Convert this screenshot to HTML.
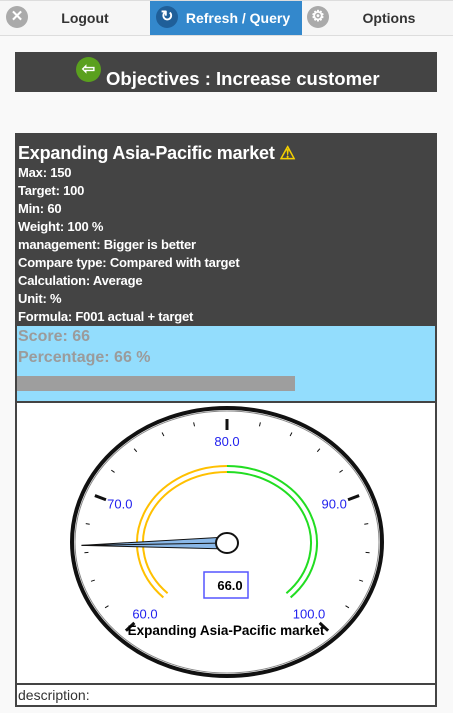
<!DOCTYPE html>
<html><head><meta charset="utf-8"><style>
body{margin:0;width:453px;height:713px;background:#f9f9f9;font-family:"Liberation Sans",Arial,sans-serif;position:relative;overflow:hidden}
.abs{position:absolute}
.nav{left:0;top:0;width:453px;height:34px;background:#f6f6f6;border-top:1px solid #ddd;border-bottom:1px solid #ddd}
.tab{top:1px;height:34px;line-height:34px;font-size:14px;font-weight:bold;color:#333;text-align:center}
.icon{width:22px;height:22px;border-radius:50%;background:#aaa;top:6px;color:#fff;text-align:center;line-height:22px;font-size:15px;font-weight:bold}
.info{left:15px;top:133px;width:418px;border:2px solid #444;background:#444}
.info div{color:#fff;font-weight:bold;font-size:13px;line-height:18px;padding-left:1px;letter-spacing:-0.2px}
</style></head><body>
<div class="abs nav"></div>
<div class="abs icon" style="left:6px">✕</div>
<div class="abs tab" style="left:30px;width:110px">Logout</div>
<div class="abs tab" style="left:150px;width:152px;background:#3388cc;color:#fff"><span style="padding-left:24px">Refresh / Query</span></div>
<div class="abs icon" style="left:156px;background:#1f5f99">↻</div>
<div class="abs icon" style="left:307px">⚙</div>
<div class="abs tab" style="left:330px;width:118px">Options</div>

<div class="abs" style="left:15px;top:52px;width:422px;height:40px;background:#444"></div>
<div class="abs" style="left:76px;top:57px;width:25px;height:25px;border-radius:50%;background:#5aa01e;color:#fff;font-size:16px;line-height:25px;text-align:center;font-weight:bold">⇦</div>
<div class="abs" style="left:106px;top:68px;color:#fff;font-size:18.5px;font-weight:bold">Objectives : Increase customer</div>

<div class="abs info">
<div style="font-size:18px;line-height:22px;padding-top:7px">Expanding Asia-Pacific market <span style="color:#f5d000">⚠</span></div>
<div>Max: 150</div>
<div>Target: 100</div>
<div>Min: 60</div>
<div>Weight: 100 %</div>
<div>management: Bigger is better</div>
<div>Compare type: Compared with target</div>
<div>Calculation: Average</div>
<div>Unit: %</div>
<div>Formula: F001 actual + target</div>
<div style="background:#93ddfd;color:#9b9b9b;font-size:16px;line-height:21px;height:75px;position:relative;letter-spacing:0">Score: 66<br>Percentage: 66 %
<span style="position:absolute;left:0;top:50px;width:278px;height:15px;background:#9e9e9e"></span></div>
<div style="background:#fff;height:280px;margin-top:2px;padding:0"></div>
<div style="background:#fff;height:20px;margin-top:2px;color:#333;font-weight:normal;font-size:14px;line-height:20px;letter-spacing:0">description:</div>
</div>

<svg class="abs" style="left:0;top:0" width="453" height="713" id="g"></svg>
<script>
const rangeMin=60, rangeMax=100;
const majorTicks=[60,70,80,90,100];
const tickLabels=["60.0","70.0","80.0","90.0","100.0"];
const bands=[[60,80,"#ffc000"],[80,100,"#22dd22"]];
const gaugeValue=[66];
const gaugeTitle=["Expanding Asia-Pacific market"];
const NS="http://www.w3.org/2000/svg", svg=document.getElementById('g');
const cx=227, cy=543;
function ang(v){return (v-80)/20*135*Math.PI/180;}
function pt(v,rx,ry){const a=ang(v);return [cx+rx*Math.sin(a), cy-ry*Math.cos(a)];}
function mk(t,at){const e=document.createElementNS(NS,t);for(const k in at)e.setAttribute(k,at[k]);svg.appendChild(e);return e;}
let e=mk('ellipse',{cx:cx-0,cy:542,rx:155,ry:134,fill:'#fff',stroke:'#111','stroke-width':4});


mk('ellipse',{cx:cx,cy:542,rx:152,ry:131,fill:'none',stroke:'#888','stroke-width':1});
for(let v=rangeMin;v<=rangeMax+0.01;v+=2){
 const maj=majorTicks.includes(v);
 const [x1,y1]=pt(v,143,124), [x2,y2]=pt(v,maj?131:139,maj?113:120);
 const t=mk('line',{x1,y1,x2,y2,stroke:'#111','stroke-width':maj?3:1});
 
 
}
majorTicks.forEach((v,i)=>{
 const [x,y]=pt(v,116,101);
 const t=mk('text',{x,y:y+4,'text-anchor':'middle','font-size':13,fill:'#2222ee','font-family':'Liberation Sans, sans-serif'});
 t.textContent=tickLabels[i];
 
 
});
bands.forEach(b=>{
 [[90,77],[84,71]].forEach(r=>{
  const [x1,y1]=pt(b[0],r[0],r[1]),[x2,y2]=pt(b[1],r[0],r[1]);
  const p=mk('path',{d:`M${x1},${y1} A${r[0]},${r[1]} 0 0 1 ${x2},${y2}`,fill:'none',stroke:b[2],'stroke-width':2});
  
  
 });
});
const a=ang(gaugeValue[0]);
const [tx,ty]=pt(gaugeValue[0],146,30);
const px=Math.cos(a)*6, py=Math.sin(a)*6;
const n=mk('polygon',{points:`${tx},${ty} ${cx+px},${cy+py} ${cx-px},${cy-py}`,fill:'#8ab8e8',stroke:'#111','stroke-width':1});


mk('line',{x1:tx,y1:ty,x2:cx,y2:cy,stroke:'#111','stroke-width':1});
const h=mk('ellipse',{cx:cx,cy:cy,rx:11,ry:10,fill:'#fff',stroke:'#111','stroke-width':2});


const bx=mk('rect',{x:204,y:572,width:44,height:26,fill:'#fff',stroke:'#5555ff','stroke-width':1.5});


const vt=mk('text',{x:230,y:590,'text-anchor':'middle','font-size':13,'font-weight':'bold',fill:'#000','font-family':'Liberation Sans, sans-serif'});
vt.textContent=gaugeValue[0].toFixed(1);


const tt=mk('text',{x:226,y:635,'text-anchor':'middle','font-size':13.5,'font-weight':'bold',fill:'#000','font-family':'Liberation Sans, sans-serif'});
tt.textContent=gaugeTitle[0];


</script>
</body></html>
